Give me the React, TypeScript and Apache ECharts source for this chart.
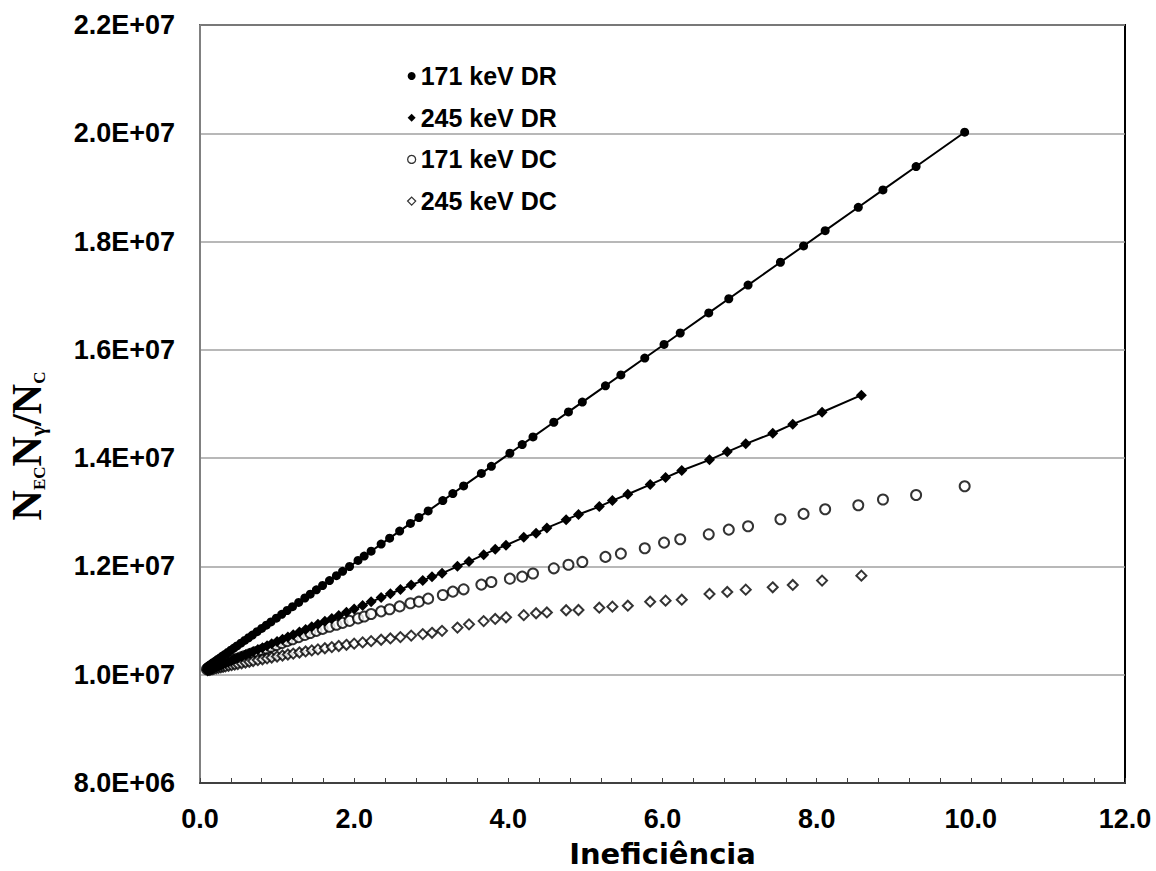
import React, { useEffect, useRef } from 'react';
import * as echarts from 'echarts';

// Ineficiência values for the 171 keV series (shared by DR and DC)
const x171 = [
  0.09, 0.11, 0.13, 0.15, 0.17, 0.20, 0.23, 0.26, 0.29, 0.32,
  0.36, 0.40, 0.44, 0.48, 0.53, 0.58, 0.63, 0.68, 0.74, 0.80,
  0.86, 0.92, 0.99, 1.06, 1.13, 1.20, 1.28, 1.36, 1.43, 1.51,
  1.59, 1.68, 1.77, 1.85, 1.94, 2.05, 2.13, 2.22, 2.35, 2.46,
  2.59, 2.73, 2.84, 2.96, 3.15, 3.28, 3.42, 3.65, 3.78, 4.02,
  4.18, 4.32, 4.59, 4.78, 4.96, 5.26, 5.46, 5.77, 6.02, 6.23,
  6.60, 6.86, 7.11, 7.53, 7.83, 8.11, 8.54, 8.86, 9.29, 9.92,
];
const y171DR = [
  1.0140e7, 1.0161e7, 1.0181e7, 1.0201e7, 1.0221e7, 1.0251e7, 1.0281e7, 1.0311e7, 1.0341e7, 1.0372e7,
  1.0412e7, 1.0452e7, 1.0492e7, 1.0532e7, 1.0583e7, 1.0633e7, 1.0683e7, 1.0733e7, 1.0794e7, 1.0854e7,
  1.0914e7, 1.0975e7, 1.1045e7, 1.1115e7, 1.1186e7, 1.1256e7, 1.1336e7, 1.1417e7, 1.1487e7, 1.1568e7,
  1.1648e7, 1.1738e7, 1.1829e7, 1.1909e7, 1.1999e7, 1.2110e7, 1.2191e7, 1.2281e7, 1.2412e7, 1.2522e7,
  1.2653e7, 1.2794e7, 1.2904e7, 1.3025e7, 1.3216e7, 1.3346e7, 1.3487e7, 1.3718e7, 1.3849e7, 1.4090e7,
  1.4251e7, 1.4392e7, 1.4663e7, 1.4854e7, 1.5035e7, 1.5336e7, 1.5537e7, 1.5849e7, 1.6100e7, 1.6311e7,
  1.6683e7, 1.6944e7, 1.7196e7, 1.7618e7, 1.7919e7, 1.8201e7, 1.8633e7, 1.8954e7, 1.9386e7, 2.0020e7,
];
const y171DC = [
  1.0100e7, 1.0110e7, 1.0120e7, 1.0130e7, 1.0140e7, 1.0155e7, 1.0170e7, 1.0185e7, 1.0200e7, 1.0215e7,
  1.0235e7, 1.0255e7, 1.0275e7, 1.0295e7, 1.0320e7, 1.0345e7, 1.0370e7, 1.0395e7, 1.0425e7, 1.0455e7,
  1.0485e7, 1.0515e7, 1.0550e7, 1.0585e7, 1.0620e7, 1.0655e7, 1.0695e7, 1.0735e7, 1.0770e7, 1.0810e7,
  1.0846e7, 1.0885e7, 1.0923e7, 1.0958e7, 1.0995e7, 1.1040e7, 1.1075e7, 1.1122e7, 1.1170e7, 1.1210e7,
  1.1262e7, 1.1320e7, 1.1349e7, 1.1405e7, 1.1473e7, 1.1535e7, 1.1577e7, 1.1664e7, 1.1713e7, 1.1774e7,
  1.1811e7, 1.1870e7, 1.1965e7, 1.2030e7, 1.2083e7, 1.2176e7, 1.2237e7, 1.2335e7, 1.2440e7, 1.2501e7,
  1.2593e7, 1.2680e7, 1.2741e7, 1.2871e7, 1.2970e7, 1.3055e7, 1.3129e7, 1.3235e7, 1.3320e7, 1.3480e7,
];

// Ineficiência values for the 245 keV series (shared by DR and DC)
const x245 = [
  0.10, 0.12, 0.14, 0.16, 0.18, 0.21, 0.24, 0.27, 0.30, 0.33,
  0.37, 0.41, 0.45, 0.49, 0.54, 0.59, 0.64, 0.69, 0.75, 0.81,
  0.87, 0.93, 1.00, 1.07, 1.14, 1.21, 1.29, 1.37, 1.45, 1.53,
  1.62, 1.71, 1.80, 1.90, 2.00, 2.11, 2.22, 2.35, 2.47, 2.60,
  2.74, 2.89, 3.01, 3.14, 3.34, 3.49, 3.68, 3.83, 3.97, 4.20,
  4.36, 4.50, 4.75, 4.91, 5.18, 5.35, 5.55, 5.84, 6.04, 6.25,
  6.61, 6.84, 7.08, 7.43, 7.69, 8.07, 8.58,
];
const y245DR = [
  1.0074e7, 1.0086e7, 1.0098e7, 1.0110e7, 1.0122e7, 1.0140e7, 1.0158e7, 1.0176e7, 1.0194e7, 1.0212e7,
  1.0236e7, 1.0260e7, 1.0284e7, 1.0308e7, 1.0338e7, 1.0368e7, 1.0398e7, 1.0428e7, 1.0464e7, 1.0500e7,
  1.0536e7, 1.0572e7, 1.0614e7, 1.0656e7, 1.0698e7, 1.0740e7, 1.0788e7, 1.0836e7, 1.0884e7, 1.0932e7,
  1.0986e7, 1.1040e7, 1.1094e7, 1.1154e7, 1.1214e7, 1.1280e7, 1.1346e7, 1.1424e7, 1.1496e7, 1.1574e7,
  1.1658e7, 1.1738e7, 1.1811e7, 1.1872e7, 1.2002e7, 1.2089e7, 1.2218e7, 1.2316e7, 1.2390e7, 1.2538e7,
  1.2612e7, 1.2712e7, 1.2860e7, 1.2960e7, 1.3105e7, 1.3216e7, 1.3333e7, 1.3512e7, 1.3641e7, 1.3771e7,
  1.3969e7, 1.4116e7, 1.4264e7, 1.4460e7, 1.4627e7, 1.4848e7, 1.5163e7,
];
const y245DC = [
  1.0085e7, 1.0091e7, 1.0097e7, 1.0103e7, 1.0109e7, 1.0118e7, 1.0127e7, 1.0136e7, 1.0145e7, 1.0154e7,
  1.0165e7, 1.0176e7, 1.0187e7, 1.0198e7, 1.0212e7, 1.0226e7, 1.0240e7, 1.0254e7, 1.0270e7, 1.0286e7,
  1.0302e7, 1.0318e7, 1.0337e7, 1.0355e7, 1.0373e7, 1.0390e7, 1.0410e7, 1.0430e7, 1.0449e7, 1.0468e7,
  1.0489e7, 1.0510e7, 1.0530e7, 1.0552e7, 1.0574e7, 1.0597e7, 1.0620e7, 1.0646e7, 1.0670e7, 1.0695e7,
  1.0722e7, 1.0750e7, 1.0774e7, 1.0810e7, 1.0870e7, 1.0930e7, 1.0990e7, 1.1030e7, 1.1060e7, 1.1100e7,
  1.1135e7, 1.1150e7, 1.1190e7, 1.1195e7, 1.1238e7, 1.1257e7, 1.1275e7, 1.1349e7, 1.1368e7, 1.1386e7,
  1.1492e7, 1.1529e7, 1.1571e7, 1.1614e7, 1.1658e7, 1.1738e7, 1.1830e7,
];

const seriesNames = ['171 keV DR', '245 keV DR', '171 keV DC', '245 keV DC'];
const xAxisTitle = 'Ineficiência';

function sciLabel(v: number): string {
  const exp = Math.floor(Math.log10(v) + 1e-9);
  const mant = v / Math.pow(10, exp);
  return mant.toFixed(1) + 'E+' + String(exp).padStart(2, '0');
}

function pairs(xs: number[], ys: number[]): number[][] {
  return xs.map((x, i) => [x, ys[i]]);
}

export default function App() {
  const ref = useRef<HTMLDivElement>(null);

  useEffect(() => {
    if (!ref.current) return;
    const chart = echarts.init(ref.current, null, { renderer: 'svg' });
    const numFont = '"Liberation Sans", Arial, sans-serif';
    const openStyle = { color: '#fff', borderColor: '#000', borderWidth: 2 };

    chart.setOption({
      animation: false,
      backgroundColor: '#ffffff',
      grid: {
        left: 200, right: 31, top: 25, bottom: 88,
        outerBoundsMode: 'none', containLabel: false,
        show: true, borderColor: '#000', borderWidth: 2, backgroundColor: 'transparent',
      },
      xAxis: {
        type: 'value', min: 0, max: 12, interval: 2,
        axisLine: { show: true, lineStyle: { color: '#404040', width: 2 } },
        axisTick: { show: true, inside: true, length: 5, lineStyle: { color: '#404040', width: 1 } },
        minorTick: { show: true, splitNumber: 5, length: 5, lineStyle: { color: '#404040', width: 1 } },
        splitLine: { show: false },
        axisLabel: {
          fontFamily: numFont, fontWeight: 'bold', fontSize: 27, color: '#000', margin: 22,
          formatter: (v: number) => v.toFixed(1),
        },
        name: xAxisTitle, nameLocation: 'middle', nameGap: 58,
        nameTextStyle: { fontFamily: '"DejaVu Sans"', fontWeight: 'bold', fontSize: 29, lineHeight: 25, color: '#000' },
      },
      yAxis: {
        type: 'value', min: 8e6, max: 2.2e7, interval: 2e6,
        axisLine: { show: true, lineStyle: { color: '#808080', width: 2 } },
        axisTick: { show: false },
        splitLine: { show: true, lineStyle: { color: '#a0a0a0', width: 1.5 } },
        axisLabel: {
          fontFamily: numFont, fontWeight: 'bold', fontSize: 27, color: '#000', margin: 25,
          formatter: sciLabel,
        },
      },
      legend: {
        left: 402, top: 58, orient: 'vertical',
        itemWidth: 8, itemHeight: 8, itemGap: 15.7,
        textStyle: { fontFamily: numFont, fontWeight: 'bold', fontSize: 25, color: '#000', lineHeight: 26 },
        data: [
          { name: seriesNames[0], icon: 'circle', itemStyle: { color: '#000' } },
          { name: seriesNames[1], icon: 'diamond', itemStyle: { color: '#000' } },
          { name: seriesNames[2], icon: 'circle', itemStyle: { color: '#fff', borderColor: '#000', borderWidth: 1.3 } },
          { name: seriesNames[3], icon: 'diamond', itemStyle: { color: '#fff', borderColor: '#000', borderWidth: 1.3 } },
        ],
      },
      graphic: [
        {
          type: 'text', x: 48, y: 446, rotation: Math.PI / 2,
          style: {
            text: '{n|N}{s|EC}{n|N}{g|γ}{n|/N}{s|C}',
            align: 'center', verticalAlign: 'bottom',
            rich: {
              n: { fontFamily: '"Liberation Serif", serif', fontWeight: 'bold', fontSize: 42, lineHeight: 42, verticalAlign: 'bottom', fill: '#000' },
              s: { fontFamily: '"Liberation Serif", serif', fontWeight: 'bold', fontSize: 17, lineHeight: 17, verticalAlign: 'bottom', fill: '#000' },
              g: { fontFamily: '"Liberation Serif", serif', fontWeight: 'bold', fontSize: 22, lineHeight: 22, verticalAlign: 'bottom', fill: '#000' },
            },
          },
        },
      ],
      series: [
        {
          name: seriesNames[0], type: 'line', data: pairs(x171, y171DR),
          symbol: 'circle', symbolSize: 9, showSymbol: true,
          lineStyle: { color: '#000', width: 2 }, itemStyle: { color: '#000' }, z: 3,
        },
        {
          name: seriesNames[1], type: 'line', data: pairs(x245, y245DR),
          symbol: 'diamond', symbolSize: 11, showSymbol: true,
          lineStyle: { color: '#000', width: 2 }, itemStyle: { color: '#000' }, z: 3,
        },
        {
          name: seriesNames[2], type: 'scatter', data: pairs(x171, y171DC),
          symbol: 'circle', symbolSize: 10, itemStyle: openStyle, z: 2,
        },
        {
          name: seriesNames[3], type: 'scatter', data: pairs(x245, y245DC),
          symbol: 'diamond', symbolSize: 10, itemStyle: openStyle, z: 2,
        },
      ],
    });

    return () => chart.dispose();
  }, []);

  return (
    <div
      ref={ref}
      style={{ position: 'fixed', left: 0, top: 0, width: 1156, height: 871, background: '#fff' }}
    />
  );
}
